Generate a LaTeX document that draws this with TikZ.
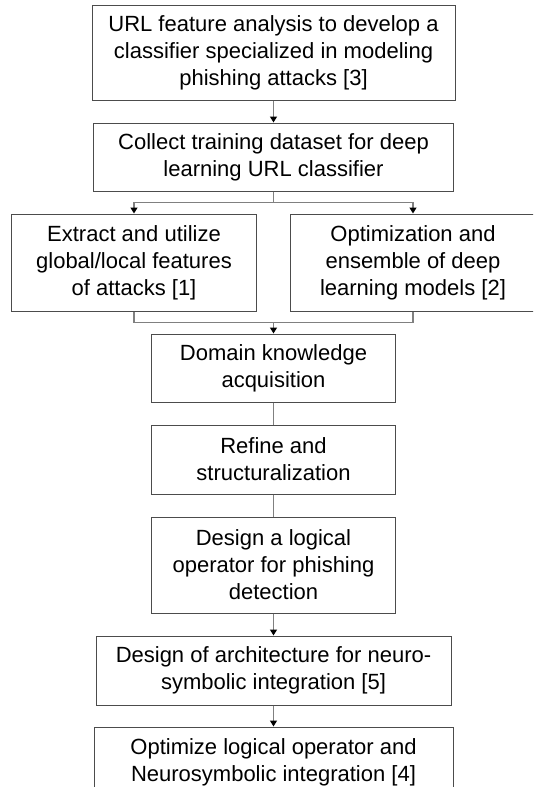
\documentclass[tikz,border=0pt]{standalone}
\usepackage{fontspec}
\setmainfont{Liberation Sans}
\usetikzlibrary{arrows.meta,positioning}

\begin{document}
\begin{tikzpicture}[node distance=22pt,
  box/.style={draw=black!70, line width=1pt, align=center, inner sep=2pt,
    font=\fontsize{22pt}{27pt}\selectfont},
  line/.style={draw=black!50, line width=1.3pt},
  link/.style={line, -{Triangle[black,width=7pt,length=6pt]}}]
  % frame of the page
  \useasboundingbox (0,0) rectangle (533pt,-787pt);
  \clip (0,0) rectangle (533pt,-787pt);

  % main column
  \node (url) [box, minimum width=363pt, minimum height=95pt] at (273.5pt,-52.5pt)
    {URL feature analysis to develop a\\classifier specialized in modeling\\phishing attacks [3]};
  \node (collect) [box, below=of url, minimum width=360pt, minimum height=68pt]
    {Collect training dataset for deep\\learning URL classifier};
  \node (extract) [box, below=of collect, xshift=-139.5pt, minimum width=245pt, minimum height=97pt]
    {Extract and utilize\\global/local features\\of attacks [1]};
  \node (optim) [box, below=of collect, xshift=139.5pt, minimum width=245pt, minimum height=97pt]
    {Optimization and\\ensemble of deep\\learning models [2]};
  \node (domain) [box, below=of extract, xshift=139.5pt, minimum width=244pt, minimum height=68pt]
    {Domain knowledge\\acquisition};
  \node (refine) [box, below=of domain, minimum width=244pt, minimum height=69pt]
    {Refine and\\structuralization};
  \node (logic) [box, below=of refine, minimum width=244pt, minimum height=96pt]
    {Design a logical\\operator for phishing\\detection};
  \node (arch) [box, below=of logic, minimum width=355pt, minimum height=69pt]
    {Design of architecture for neuro-\\symbolic integration [5]};
  \node (neuro) [box, below=21pt of arch, minimum width=359pt, minimum height=70pt]
    {Optimize logical operator and\\Neurosymbolic integration [4]};

  % split and merge points
  \coordinate (split) at ([yshift=-11pt]collect.south);
  \coordinate (merge) at ([yshift=11pt]domain.north);

  % connectors
  \draw[link] (url) -- (collect);
  \draw[line] (collect) -- (split);
  \draw[link] (split) -| (extract);
  \draw[link] (split) -| (optim);
  \draw[line] (extract) |- (merge) -| (optim);
  \draw[link] (merge) -- (domain);
  \draw[line] (domain) -- (refine);
  \draw[line] (refine) -- (logic);
  \draw[link] (logic) -- (arch);
  \draw[link] (arch) -- (neuro);
\end{tikzpicture}
\end{document}
